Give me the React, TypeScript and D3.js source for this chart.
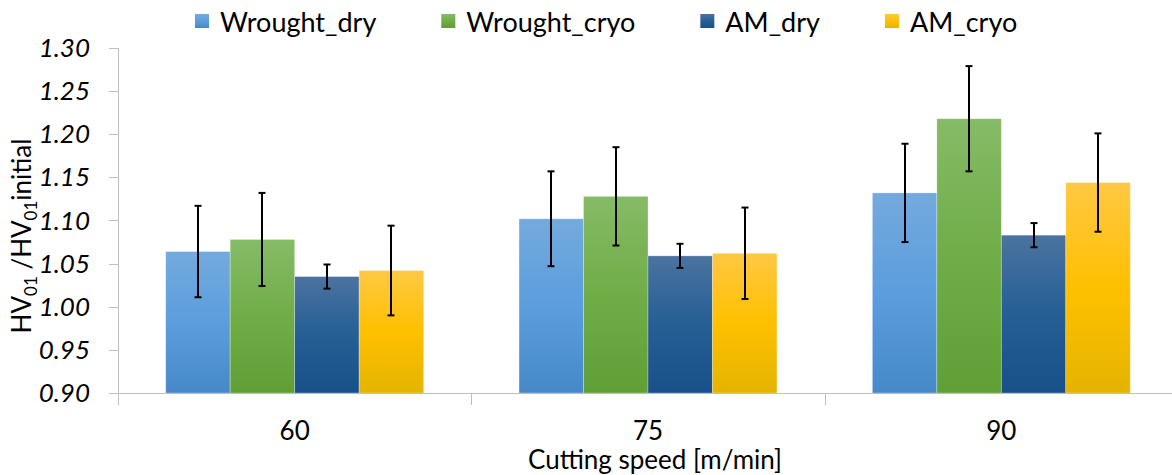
import React, { useEffect, useRef } from "react";
import * as d3 from "d3";

const categories = ["60", "75", "90"];
const seriesNames = ["Wrought_dry", "Wrought_cryo", "AM_dry", "AM_cryo"];

const wroughtDry = [1.064, 1.102, 1.132];
const wroughtDryErr = [0.053, 0.055, 0.057];
const wroughtCryo = [1.078, 1.128, 1.218];
const wroughtCryoErr = [0.054, 0.057, 0.061];
const amDry = [1.035, 1.059, 1.083];
const amDryErr = [0.014, 0.014, 0.014];
const amCryo = [1.042, 1.062, 1.144];
const amCryoErr = [0.052, 0.053, 0.057];

const yTicks = [0.9, 0.95, 1.0, 1.05, 1.1, 1.15, 1.2, 1.25, 1.3];

// top, middle, bottom colours of the Office-like gradient
const palette = [
  ["#74aade", "#5b9ddd", "#4689c9"],
  ["#86bb67", "#70ad47", "#5f9f36"],
  ["#4b73a0", "#255f94", "#185089"],
  ["#ffc843", "#ffc000", "#e4b400"],
];

const W = 1172;
const H = 475;
const FONT = "Lato, 'Open Sans', 'DejaVu Sans', sans-serif";

const App = () => {
  const svgRef = useRef<SVGSVGElement | null>(null);

  useEffect(() => {
    if (!svgRef.current) return;
    const svg = d3.select(svgRef.current);
    svg.selectAll("*").remove();

    const values = [wroughtDry, wroughtCryo, amDry, amCryo];
    const errors = [wroughtDryErr, wroughtCryoErr, amDryErr, amCryoErr];

    const x = d3.scaleBand().domain(categories).range([118, 1178]).padding(0);
    const xs = d3
      .scaleBand()
      .domain(seriesNames)
      .range([0, x.bandwidth()])
      .paddingInner(0)
      .paddingOuter(0.74);
    const y = d3.scaleLinear().domain([0.9, 1.3]).range([393, 48]);

    // gradients
    const defs = svg.append("defs");
    palette.forEach((c, i) => {
      const g = defs
        .append("linearGradient")
        .attr("id", `grad${i}`)
        .attr("x1", 0)
        .attr("y1", 0)
        .attr("x2", 0)
        .attr("y2", 1);
      g.append("stop").attr("offset", "0%").attr("stop-color", c[0]);
      g.append("stop").attr("offset", "50%").attr("stop-color", c[1]);
      g.append("stop").attr("offset", "100%").attr("stop-color", c[2]);
    });

    // bars
    const rows = seriesNames.flatMap((s, si) =>
      categories.map((cat, ci) => ({
        s,
        si,
        cat,
        v: values[si][ci],
        e: errors[si][ci],
      }))
    );

    svg
      .append("g")
      .selectAll("rect")
      .data(rows)
      .join("rect")
      .attr("x", (d) => (x(d.cat) as number) + (xs(d.s) as number))
      .attr("y", (d) => y(d.v))
      .attr("width", xs.bandwidth())
      .attr("height", (d) => y(0.9) - y(d.v))
      .attr("fill", (d) => `url(#grad${d.si})`)
      .attr("stroke", "#ffffff")
      .attr("stroke-opacity", 0.35)
      .attr("stroke-width", 0.8);

    // axes
    const axisColor = "#bfbfbf";
    const ax = svg.append("g").attr("stroke", axisColor).attr("stroke-width", 1);
    ax.append("line")
      .attr("x1", 118.5)
      .attr("x2", 118.5)
      .attr("y1", y(1.3))
      .attr("y2", y(0.9));
    ax.append("line")
      .attr("x1", 118)
      .attr("x2", W)
      .attr("y1", y(0.9) + 0.5)
      .attr("y2", y(0.9) + 0.5);
    yTicks.forEach((t) => {
      ax.append("line")
        .attr("x1", 109)
        .attr("x2", 118)
        .attr("y1", Math.round(y(t)) + 0.5)
        .attr("y2", Math.round(y(t)) + 0.5);
    });
    categories.forEach((c) => {
      const px = Math.round(x(c) as number) + 0.5;
      ax.append("line").attr("x1", px).attr("x2", px).attr("y1", 393).attr("y2", 405);
    });

    // error bars
    const eb = svg.append("g").attr("stroke", "#000").attr("stroke-width", 2);
    rows.forEach((d) => {
      const cx = Math.round((x(d.cat) as number) + (xs(d.s) as number) + xs.bandwidth() / 2);
      const y1 = y(d.v + d.e);
      const y2 = y(d.v - d.e);
      eb.append("line").attr("x1", cx).attr("x2", cx).attr("y1", y1).attr("y2", y2);
      eb.append("line").attr("x1", cx - 3.5).attr("x2", cx + 3.5).attr("y1", y1).attr("y2", y1);
      eb.append("line").attr("x1", cx - 3.5).attr("x2", cx + 3.5).attr("y1", y2).attr("y2", y2);
    });

    // y tick labels
    svg
      .append("g")
      .selectAll("text")
      .data(yTicks)
      .join("text")
      .attr("x", 90)
      .attr("y", (d) => y(d) + 9)
      .attr("text-anchor", "end")
      .attr("font-family", FONT)
      .attr("font-style", "italic")
      .attr("font-size", 26)
      .attr("fill", "#000")
      .text((d) => d3.format(".2f")(d));

    // x tick labels
    svg
      .append("g")
      .selectAll("text")
      .data(categories)
      .join("text")
      .attr("x", (d) => (x(d) as number) + x.bandwidth() / 2)
      .attr("y", 440)
      .attr("text-anchor", "middle")
      .attr("font-family", FONT)
      .attr("font-size", 26)
      .attr("fill", "#000")
      .text((d) => d);

    // x title
    svg
      .append("text")
      .attr("x", 655)
      .attr("y", 469)
      .attr("text-anchor", "middle")
      .attr("font-family", FONT)
      .attr("font-size", 26)
      .attr("fill", "#000")
      .text("Cutting speed [m/min]");

    // y title with subscripts
    const yt = svg
      .append("text")
      .attr("transform", "translate(31,236) rotate(-90)")
      .attr("text-anchor", "middle")
      .attr("font-family", FONT)
      .attr("font-size", 26)
      .attr("fill", "#000");
    yt.append("tspan").text("HV");
    yt.append("tspan").attr("font-size", 17).attr("dy", 6).text("01");
    yt.append("tspan").attr("dy", -6).text(" /HV");
    yt.append("tspan").attr("font-size", 17).attr("dy", 6).text("01");
    yt.append("tspan").attr("dy", -6).text("initial");

    // legend
    const legend = svg.append("g");
    let lx = 195;
    seriesNames.forEach((s, i) => {
      legend
        .append("rect")
        .attr("x", lx)
        .attr("y", 14)
        .attr("width", 14)
        .attr("height", 14)
        .attr("fill", `url(#grad${i})`);
      const t = legend
        .append("text")
        .attr("x", lx + 25)
        .attr("y", 32)
        .attr("font-family", FONT)
        .attr("font-size", 27)
        .attr("fill", "#000")
        .text(s);
      const tw = (t.node() as SVGTextElement).getComputedTextLength();
      lx += 25 + tw + 65;
    });
  }, []);

  return (
    <svg
      ref={svgRef}
      width={W}
      height={H}
      style={{ position: "absolute", left: 0, top: 0, background: "#fff", display: "block" }}
    />
  );
};

export default App;
